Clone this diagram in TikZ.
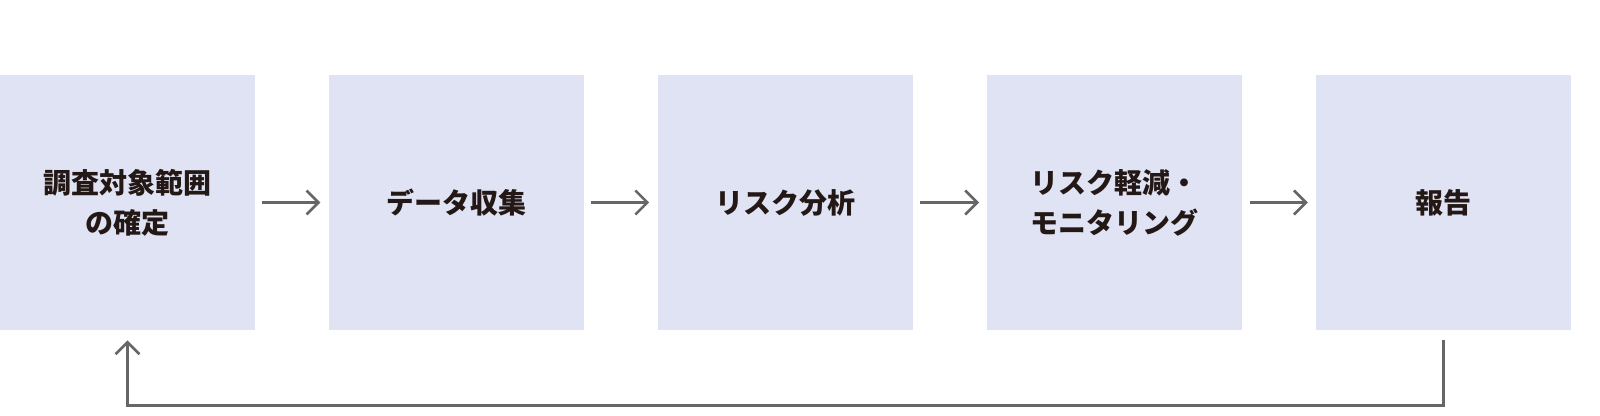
\documentclass[tikz,border=0pt]{standalone}
\usepackage{fontspec}
\setmainfont{Noto Sans CJK JP}
\usetikzlibrary{arrows.meta,positioning}
\definecolor{boxfill}{HTML}{E0E3F3}
\definecolor{linegray}{HTML}{666666}
\definecolor{txt}{HTML}{231815}
\tikzset{
  stepbox/.style={fill=boxfill,minimum width=127.5pt,minimum height=127.5pt,inner sep=0pt,
    align=center,font=\fontsize{14}{20}\selectfont\bfseries,text=txt},
  flow/.style={draw=linegray,line width=1.3pt,-{Straight Barb[length=6pt,width=12pt,line width=1.3pt]}}
}
\begin{document}
\begin{tikzpicture}[x=0.5pt,y=-0.5pt]
\useasboundingbox (0,0) rectangle (1600,416);

% Boxes
\node[stepbox] (scope) at (127.5,202.5) {調査対象範囲\\の確定};
\node[stepbox,right=36.5pt of scope] (data) {データ収集};
\node[stepbox,right=36.5pt of data] (anal) {リスク分析};
\node[stepbox,right=37pt of anal] (miti) {リスク軽減・\\モニタリング};
\node[stepbox,right=36.5pt of miti] (report) {報告};

% Arrows
\foreach \a/\b in {scope/data,data/anal,anal/miti,miti/report}
  \draw[flow] ([xshift=3.5pt]\a.east) -- ([xshift=-4pt]\b.west);

% Feedback loop
\coordinate (fb1) at ([yshift=-5pt]report.south);
\coordinate (fb2) at ([yshift=-5pt]scope.south);
\draw[flow] (fb1) |- ++(0,65) -| (fb2);
\end{tikzpicture}
\end{document}
